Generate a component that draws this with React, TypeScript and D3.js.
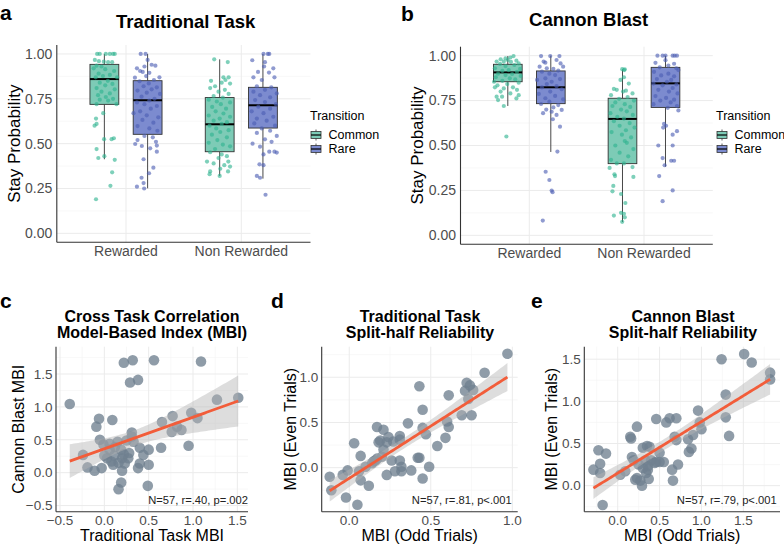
import React from 'react';
import * as d3 from 'd3';

const FONT = '"Liberation Sans", Arial, Helvetica, sans-serif';

const groups = ['Rewarded', 'Non Rewarded'];
const transitions = ['Common', 'Rare'];
const fills = ['#7dcbb6', '#7c8bcf'];
const dots = ['#2fb38f', '#4c5db3'];
const boxTicks = [0, 0.25, 0.5, 0.75, 1];

// box stats: [lower whisker, q1, median, q3, upper whisker]
const tradStats = [
  [0.413, 0.719, 0.86, 0.942, 1.0],
  [0.251, 0.552, 0.742, 0.851, 1.0],
  [0.32, 0.455, 0.608, 0.757, 0.97],
  [0.305, 0.587, 0.714, 0.814, 1.0],
];
const cannonStats = [
  [0.72, 0.855, 0.907, 0.952, 0.998],
  [0.464, 0.733, 0.824, 0.915, 1.0],
  [0.074, 0.399, 0.648, 0.763, 0.924],
  [0.382, 0.712, 0.846, 0.935, 1.0],
];

// jittered points: [offset in box widths, stay probability]
const tradCommonRew = [[-0.25,1.0],[-0.16,1.0],[0.05,1.0],[0.19,1.0],[0.30,1.0],[0.36,1.0],[-0.33,0.967],[-0.19,0.96],[-0.02,0.957],[0.13,0.954],[0.27,0.954],[-0.27,0.935],[-0.10,0.93],[-0.37,0.92],[0.03,0.915],[0.34,0.905],[-0.20,0.89],[0.19,0.883],[-0.05,0.877],[-0.30,0.87],[0.44,0.87],[0.12,0.85],[-0.16,0.84],[0.28,0.833],[0.03,0.825],[-0.27,0.81],[0.36,0.803],[-0.10,0.79],[0.19,0.78],[-0.22,0.77],[0.05,0.76],[0.30,0.75],[-0.16,0.745],[0.13,0.74],[-0.27,0.72],[0.42,0.72],[-0.04,0.67],[-0.29,0.64],[-0.27,0.61],[-0.34,0.60],[0.33,0.53],[-0.01,0.525],[0.25,0.525],[-0.27,0.47],[0.0,0.43],[-0.21,0.42],[0.36,0.41],[0.27,0.34],[0.21,0.265],[-0.29,0.19]];
const tradRareRew = [[-0.24,1.0],[-0.07,1.0],[0.0,0.967],[0.14,0.94],[0.27,0.935],[-0.11,0.93],[-0.37,0.92],[-0.26,0.905],[-0.17,0.9],[0.06,0.895],[-0.05,0.877],[-0.44,0.868],[0.41,0.87],[0.22,0.855],[-0.28,0.848],[0.04,0.836],[-0.14,0.82],[0.32,0.814],[0.14,0.803],[-0.35,0.796],[-0.03,0.784],[0.43,0.777],[-0.21,0.762],[0.24,0.75],[0.06,0.74],[-0.37,0.73],[-0.11,0.72],[0.32,0.71],[0.11,0.695],[-0.26,0.68],[-0.49,0.67],[-0.03,0.658],[0.37,0.647],[-0.18,0.632],[0.2,0.617],[-0.35,0.598],[0.06,0.585],[0.34,0.572],[-0.11,0.543],[0.18,0.535],[-0.35,0.52],[0.29,0.51],[-0.43,0.498],[0.32,0.489],[-0.2,0.487],[0.09,0.474],[0.32,0.455],[-0.14,0.413],[0.2,0.366],[0.05,0.335],[-0.21,0.31],[-0.14,0.28],[-0.37,0.26],[-0.12,0.25]];
const tradCommonNon = [[-0.19,0.97],[0.28,0.955],[-0.3,0.85],[0.13,0.87],[0.31,0.87],[0.2,0.855],[0.07,0.84],[0.36,0.835],[-0.16,0.82],[-0.33,0.81],[0.18,0.8],[-0.04,0.79],[0.31,0.777],[-0.21,0.765],[0.11,0.757],[-0.38,0.745],[-0.1,0.735],[0.36,0.73],[0.04,0.72],[-0.26,0.705],[0.22,0.695],[-0.14,0.68],[0.13,0.668],[-0.38,0.657],[0.36,0.65],[0.0,0.64],[-0.21,0.628],[0.25,0.62],[0.07,0.61],[-0.35,0.6],[-0.12,0.585],[0.31,0.575],[0.02,0.565],[-0.27,0.55],[0.25,0.535],[-0.08,0.52],[-0.38,0.505],[0.11,0.495],[0.36,0.485],[-0.16,0.47],[-0.33,0.452],[0.07,0.44],[0.25,0.43],[-0.04,0.42],[-0.44,0.4],[-0.21,0.39],[0.16,0.38],[0.36,0.372],[0.02,0.36],[-0.33,0.345],[0.29,0.345],[-0.35,0.33],[0.0,0.32],[0.3,0.4]];
const tradRareNon = [[0.02,1.0],[0.17,1.0],[0.22,1.0],[-0.37,0.965],[0.07,0.954],[0.36,0.92],[0.04,0.93],[-0.17,0.9],[0.21,0.896],[-0.33,0.87],[0.4,0.87],[-0.04,0.855],[-0.21,0.82],[0.29,0.814],[0.07,0.8],[-0.33,0.79],[0.48,0.78],[-0.1,0.77],[0.25,0.758],[-0.27,0.743],[0.07,0.732],[0.45,0.72],[-0.16,0.706],[0.25,0.695],[-0.39,0.68],[0.02,0.67],[0.36,0.65],[-0.21,0.64],[0.13,0.628],[-0.3,0.613],[0.42,0.6],[-0.04,0.585],[0.25,0.572],[-0.21,0.56],[0.48,0.543],[-0.36,0.5],[0.07,0.524],[0.3,0.51],[-0.1,0.483],[0.4,0.455],[0.22,0.455],[0.48,0.45],[0.02,0.44],[-0.12,0.385],[0.02,0.38],[-0.21,0.32],[-0.1,0.31],[0.09,0.215]];

const cannonCommonRew = [[0.2,0.998],[0.09,0.99],[-0.08,0.985],[-0.25,0.98],[0.0,0.976],[0.3,0.972],[-0.39,0.967],[-0.14,0.967],[0.11,0.965],[0.38,0.957],[-0.27,0.954],[0.23,0.948],[-0.08,0.942],[-0.45,0.93],[0.43,0.926],[0.03,0.92],[-0.19,0.915],[0.32,0.91],[-0.34,0.9],[0.15,0.898],[-0.08,0.892],[0.45,0.887],[-0.42,0.88],[0.07,0.874],[0.26,0.868],[-0.19,0.86],[-0.48,0.855],[0.38,0.85],[-0.02,0.842],[-0.36,0.835],[0.18,0.824],[-0.14,0.818],[0.32,0.81],[-0.45,0.824],[-0.25,0.8],[0.09,0.79],[0.38,0.78],[-0.39,0.772],[0.3,0.762],[-0.2,0.772],[-0.34,0.753],[-0.14,0.72],[-0.05,0.55]];
const cannonRareRew = [[-0.34,0.998],[-0.02,0.998],[0.3,0.998],[-0.25,0.967],[-0.19,0.961],[0.2,0.976],[0.34,0.957],[-0.39,0.939],[-0.14,0.93],[0.09,0.926],[0.26,0.917],[0.43,0.939],[-0.31,0.911],[-0.05,0.9],[0.15,0.892],[-0.19,0.874],[0.32,0.87],[-0.48,0.865],[0.03,0.855],[-0.14,0.842],[0.2,0.83],[-0.31,0.824],[0.38,0.813],[-0.02,0.8],[-0.42,0.787],[0.15,0.776],[-0.19,0.763],[0.43,0.757],[-0.05,0.744],[-0.34,0.731],[0.26,0.725],[0.09,0.712],[-0.16,0.7],[0.38,0.698],[-0.27,0.68],[0.03,0.688],[0.2,0.67],[0.07,0.646],[0.32,0.605],[0.23,0.466],[-0.18,0.354],[-0.05,0.308],[0.03,0.249],[0.06,0.24],[-0.28,0.082]];
const cannonCommonNon = [[-0.01,0.925],[0.06,0.92],[0.08,0.924],[0.05,0.88],[-0.07,0.865],[0.22,0.845],[-0.3,0.815],[-0.2,0.81],[0.02,0.8],[0.12,0.805],[0.35,0.79],[-0.4,0.78],[0.18,0.77],[-0.12,0.76],[0.4,0.75],[-0.25,0.74],[0.08,0.73],[-0.35,0.72],[0.27,0.715],[-0.05,0.7],[0.15,0.69],[-0.42,0.68],[0.36,0.67],[-0.18,0.66],[0.05,0.65],[-0.3,0.635],[0.25,0.625],[-0.1,0.61],[0.42,0.6],[0.12,0.585],[-0.38,0.575],[-0.02,0.56],[0.3,0.545],[0.08,0.525],[0.15,0.515],[-0.25,0.5],[0.38,0.48],[-0.1,0.46],[0.2,0.44],[-0.4,0.42],[0.05,0.4],[-0.2,0.4],[0.35,0.38],[-0.45,0.375],[-0.28,0.34],[-0.26,0.33],[0.38,0.325],[-0.32,0.275],[-0.35,0.245],[-0.05,0.23],[0.1,0.18],[-0.3,0.11],[-0.05,0.125],[0.05,0.12],[0.08,0.1],[-0.01,0.075]];
const cannonRareNon = [[-0.28,1.0],[-0.1,1.0],[0.0,1.0],[0.25,1.0],[0.32,1.0],[0.4,1.0],[0.0,0.975],[-0.35,0.96],[0.3,0.955],[0.1,0.945],[-0.2,0.935],[0.38,0.93],[0.45,0.92],[-0.4,0.91],[0.1,0.9],[-0.15,0.89],[0.3,0.885],[-0.3,0.87],[0.2,0.865],[0.05,0.855],[-0.42,0.845],[0.38,0.84],[-0.1,0.835],[0.25,0.82],[-0.25,0.81],[0.12,0.8],[0.42,0.79],[-0.35,0.775],[0.02,0.765],[0.3,0.755],[-0.18,0.75],[0.18,0.74],[-0.42,0.73],[0.4,0.72],[0.08,0.71],[0.45,0.695],[-0.05,0.62],[0.02,0.61],[-0.08,0.6],[0.4,0.58],[0.25,0.56],[-0.25,0.5],[0.25,0.5],[-0.1,0.43],[0.2,0.415],[0.3,0.415],[-0.03,0.39],[-0.22,0.33],[0.25,0.25],[-0.1,0.19]];

// scatter data: [x, y]
const crossTask = [[-0.39,1.045],[0.22,1.67],[0.32,1.71],[0.56,1.71],[1.09,1.69],[0.29,1.37],[0.38,1.41],[1.27,1.11],[1.51,1.14],[0.98,0.91],[1.05,0.83],[-0.06,0.82],[-0.09,0.7],[0.09,0.8],[0.65,0.77],[0.77,0.86],[0.76,0.62],[0.82,0.7],[0.87,0.65],[0.31,0.61],[0.95,0.41],[0.64,0.38],[-0.24,0.27],[-0.19,0.08],[-0.11,0.03],[-0.03,0.07],[-0.01,0.43],[0.06,0.44],[0.12,0.39],[0.25,0.49],[0.2,0.22],[0.16,0.15],[0.08,0.17],[0.03,0.22],[0.11,0.26],[0.22,0.28],[0.28,0.3],[0.19,0.35],[0.4,0.38],[0.44,0.27],[0.4,0.14],[0.5,0.35],[0.38,0.07],[0.5,0.12],[0.2,0.03],[0.19,-0.15],[0.16,-0.25],[0.49,-0.2],[0.27,0.22],[0.31,0.55],[0.33,0.47],[0.0,0.26],[0.06,0.35],[0.15,0.47],[-0.05,0.5],[0.23,0.14],[0.1,0.12]];
const tradSplit = [[0.97,1.26],[0.83,1.05],[0.72,0.94],[0.74,0.91],[0.71,0.85],[0.76,0.86],[0.73,0.76],[0.61,0.8],[0.43,0.9],[0.69,0.58],[0.75,0.58],[0.45,0.64],[0.6,0.51],[0.61,0.45],[0.59,0.33],[0.36,0.49],[0.45,0.44],[0.47,0.37],[0.54,0.24],[0.49,0.01],[0.43,0.11],[0.42,0.11],[0.45,-0.12],[0.38,-0.03],[0.32,0.01],[0.26,0.08],[0.31,0.08],[0.32,-0.04],[0.28,-0.04],[0.17,0.45],[0.21,0.42],[0.19,0.3],[0.24,0.34],[0.27,0.29],[0.31,0.35],[0.31,0.31],[0.23,0.28],[0.21,0.2],[0.14,0.05],[0.16,0.08],[0.2,0.12],[0.18,0.28],[0.15,0.07],[0.23,-0.08],[0.1,0.01],[0.07,0.13],[0.03,0.27],[0.06,-0.04],[0.12,-0.2],[0.07,-0.14],[-0.01,-0.03],[-0.04,-0.08],[-0.02,-0.33],[0.05,-0.41],[-0.12,-0.1],[-0.11,-0.25],[0.17,0.1]];
const cannonSplit = [[1.51,1.56],[1.24,1.5],[1.6,1.46],[1.82,1.34],[1.82,1.26],[1.29,1.08],[1.29,0.81],[1.33,0.59],[0.96,0.89],[1.0,0.67],[0.98,0.75],[0.9,0.6],[0.88,0.44],[0.85,0.4],[0.68,0.58],[0.46,0.79],[0.62,0.8],[0.7,0.8],[0.58,0.75],[0.7,0.54],[0.72,0.25],[0.65,0.19],[0.66,0.06],[0.5,0.39],[0.5,0.28],[0.46,0.28],[0.55,0.28],[0.35,0.47],[0.38,0.46],[0.23,0.7],[0.15,0.58],[0.17,0.34],[0.19,0.3],[0.33,0.3],[0.36,0.23],[0.34,0.15],[0.37,0.08],[0.27,0.06],[0.23,0.09],[0.29,0.0],[0.21,0.07],[0.03,0.13],[0.09,0.17],[-0.23,0.42],[-0.14,0.38],[-0.21,0.26],[-0.21,0.15],[-0.29,0.19],[-0.18,-0.23],[0.25,0.25],[0.4,0.3],[0.3,0.45],[0.16,0.56],[0.44,0.27],[0.36,0.19],[0.3,0.21],[0.84,0.55]];

const gridMajor = '#ebebeb';
const gridMinor = '#f4f4f4';
const axisCol = '#333333';
const tickCol = '#4d4d4d';

function minorBreaks(ticks: number[], domain: number[]) {
  const step = ticks[1] - ticks[0];
  const out: number[] = [];
  for (let i = -1; i < ticks.length; i++) {
    const m = ticks[0] + (i + 0.5) * step;
    if (m > domain[0] && m < domain[1]) out.push(m);
  }
  return out;
}

function BoxPanel({ x0, x1, top, bottom, stats, points, title, titleY, label, labelX, labelY, yTitleX, legendX }: any) {
  const y = d3.scaleLinear().domain([-0.05, 1.05]).range([bottom, top]);
  const xOuter = d3.scaleBand().domain(groups).range([x0, x1]).paddingInner(0).paddingOuter(0.1);
  const step = xOuter.bandwidth();
  const xInner = d3.scaleBand().domain(transitions).range([0.125 * step, 0.875 * step]);
  const boxW = 0.25 * step;
  const minor = minorBreaks(boxTicks, [-0.05, 1.05]);
  const cx = (g: number, t: number) => (xOuter(groups[g]) as number) + (xInner(transitions[t]) as number) + xInner.bandwidth() / 2;

  return (
    <g>
      <text x={labelX} y={labelY} fontSize={21} fontWeight="bold">{label}</text>
      <text x={(x0 + x1) / 2 + 2} y={titleY} fontSize={18.5} fontWeight="bold" textAnchor="middle">{title}</text>
      {minor.map(t => <line key={'m' + t} x1={x0} x2={x1} y1={y(t)} y2={y(t)} stroke={gridMinor} strokeWidth={0.6} />)}
      {boxTicks.map(t => <line key={'g' + t} x1={x0} x2={x1} y1={y(t)} y2={y(t)} stroke={gridMajor} strokeWidth={1} />)}
      {groups.map(g => {
        const c = (xOuter(g) as number) + step / 2;
        return <line key={g} x1={c} x2={c} y1={top} y2={bottom} stroke={gridMajor} strokeWidth={1} />;
      })}
      {stats.map((s: number[], i: number) => {
        const g = Math.floor(i / 2), t = i % 2;
        const c = cx(g, t);
        return (
          <g key={'b' + i}>
            <line x1={c} x2={c} y1={y(s[4])} y2={y(s[3])} stroke={axisCol} strokeWidth={0.9} />
            <line x1={c} x2={c} y1={y(s[1])} y2={y(s[0])} stroke={axisCol} strokeWidth={0.9} />
            <rect x={c - boxW / 2} y={y(s[3])} width={boxW} height={y(s[1]) - y(s[3])} fill={fills[t]} stroke={axisCol} strokeWidth={0.9} />
            <line x1={c - boxW / 2} x2={c + boxW / 2} y1={y(s[2])} y2={y(s[2])} stroke="#000" strokeWidth={2} />
          </g>
        );
      })}
      {points.map((pts: number[][], i: number) => {
        const g = Math.floor(i / 2), t = i % 2;
        const c = cx(g, t);
        return pts.map((p, j) => (
          <circle key={'p' + i + '-' + j} cx={c + p[0] * boxW} cy={y(p[1])} r={2.1} fill={dots[t]} fillOpacity={0.62} />
        ));
      })}
      <line x1={x0} x2={x0} y1={top} y2={bottom} stroke={axisCol} strokeWidth={1.1} />
      <line x1={x0} x2={x1} y1={bottom} y2={bottom} stroke={axisCol} strokeWidth={1.1} />
      {boxTicks.map(t => (
        <text key={'t' + t} x={x0 - 4.5} y={y(t)} dy="0.35em" fontSize={14} fill={tickCol} textAnchor="end">{d3.format('.2f')(t)}</text>
      ))}
      {groups.map(g => (
        <text key={'x' + g} x={(xOuter(g) as number) + step / 2} y={bottom + 14} fontSize={14} fill={tickCol} textAnchor="middle">{g}</text>
      ))}
      <text transform={`translate(${yTitleX},${(top + bottom) / 2}) rotate(-90)`} dy="0.35em" fontSize={17} textAnchor="middle">Stay Probability</text>
      <g transform={`translate(${legendX},0)`}>
        <text x={1} y={120} fontSize={12.5}>Transition</text>
        {transitions.map((t, i) => {
          const ky = 135 + i * 14;
          return (
            <g key={t}>
              <line x1={7} x2={7} y1={ky - 5.5} y2={ky + 5.5} stroke={axisCol} strokeWidth={0.8} />
              <rect x={2} y={ky - 3.5} width={10} height={7} fill={fills[i]} stroke={axisCol} strokeWidth={0.8} />
              <line x1={2} x2={12} y1={ky} y2={ky} stroke="#000" strokeWidth={1.2} />
              <text x={19.5} y={ky} dy="0.35em" fontSize={12.5}>{t}</text>
            </g>
          );
        })}
      </g>
    </g>
  );
}

function fitLine(data: number[][]) {
  const n = data.length;
  const mx = d3.mean(data, d => d[0]) as number;
  const my = d3.mean(data, d => d[1]) as number;
  let sxx = 0, sxy = 0;
  data.forEach(d => { sxx += (d[0] - mx) ** 2; sxy += (d[0] - mx) * (d[1] - my); });
  const b = sxy / sxx;
  const a = my - b * mx;
  let sse = 0;
  data.forEach(d => { sse += (d[1] - a - b * d[0]) ** 2; });
  const s = Math.sqrt(sse / (n - 2));
  const tq = 2.004;
  const [lo, hi] = d3.extent(data, d => d[0]) as number[];
  const xs = d3.range(0, 81).map(i => lo + (hi - lo) * i / 80);
  return xs.map(x => {
    const fit = a + b * x;
    const se = s * Math.sqrt(1 / n + (x - mx) ** 2 / sxx);
    return { x, fit, lo: fit - tq * se, hi: fit + tq * se };
  });
}

function ScatterPanel({ data, xDomain, yDomain, left, right, top, bottom, xTicks, yTicks, titles, titleX, xLabel, yLabel, yTitleX, note, noteX, label, labelX }: any) {
  const x = d3.scaleLinear().domain(xDomain).range([left, right]);
  const y = d3.scaleLinear().domain(yDomain).range([bottom, top]);
  const fit = fitLine(data);
  const area = d3.area<any>().x(d => x(d.x)).y0(d => y(d.lo)).y1(d => y(d.hi));
  const line = d3.line<any>().x(d => x(d.x)).y(d => y(d.fit));
  const fmt = d3.format('.1f');
  return (
    <g>
      <text x={labelX} y={308} fontSize={21} fontWeight="bold">{label}</text>
      {titles.map((t: string, i: number) => (
        <text key={t} x={titleX} y={321.5 + i * 16.5} fontSize={16} fontWeight="bold" textAnchor="middle">{t}</text>
      ))}
      {minorBreaks(xTicks, xDomain).map(t => <line key={'mx' + t} x1={x(t)} x2={x(t)} y1={top} y2={bottom} stroke={gridMinor} strokeWidth={0.6} />)}
      {minorBreaks(yTicks, yDomain).map(t => <line key={'my' + t} x1={left} x2={right} y1={y(t)} y2={y(t)} stroke={gridMinor} strokeWidth={0.6} />)}
      {xTicks.map((t: number) => <line key={'gx' + t} x1={x(t)} x2={x(t)} y1={top} y2={bottom} stroke={gridMajor} strokeWidth={1} />)}
      {yTicks.map((t: number) => <line key={'gy' + t} x1={left} x2={right} y1={y(t)} y2={y(t)} stroke={gridMajor} strokeWidth={1} />)}
      {data.map((d: number[], i: number) => (
        <circle key={i} cx={x(d[0])} cy={y(d[1])} r={5.3} fill="#708090" fillOpacity={0.78} />
      ))}
      <path d={area(fit) as string} fill="#b3b3b3" fillOpacity={0.45} />
      <path d={line(fit) as string} fill="none" stroke="#f25d3a" strokeWidth={2.8} />
      <line x1={left} x2={left} y1={top} y2={bottom} stroke={axisCol} strokeWidth={1.1} />
      <line x1={left} x2={right} y1={bottom} y2={bottom} stroke={axisCol} strokeWidth={1.1} />
      {xTicks.map((t: number) => (
        <text key={'tx' + t} x={x(t)} y={bottom + 13} fontSize={13.5} fill={tickCol} textAnchor="middle">{fmt(t)}</text>
      ))}
      {yTicks.map((t: number) => (
        <text key={'ty' + t} x={left - 3.5} y={y(t)} dy="0.35em" fontSize={13.5} fill={tickCol} textAnchor="end">{fmt(t)}</text>
      ))}
      <text x={(left + right) / 2} y={541} fontSize={16} textAnchor="middle">{xLabel}</text>
      <text transform={`translate(${yTitleX},${(top + bottom) / 2}) rotate(-90)`} dy="0.35em" fontSize={16} textAnchor="middle">{yLabel}</text>
      <text x={noteX} y={503.5} fontSize={11.2} fill="#222" textAnchor="end">{note}</text>
    </g>
  );
}

export default function App() {
  return (
    <svg width={784} height={546} style={{ position: 'absolute', left: 0, top: 0, background: '#fff' }} fontFamily={FONT}>
      <rect width={784} height={546} fill="#fff" />
      <BoxPanel x0={56.8} x1={310.5} top={45} bottom={242.3} stats={tradStats}
        points={[tradCommonRew, tradRareRew, tradCommonNon, tradRareNon]}
        title="Traditional Task" titleY={28} label="a" labelX={0} labelY={20} yTitleX={14} legendX={309} />
      <BoxPanel x0={460.5} x1={712.8} top={46.7} bottom={244.3} stats={cannonStats}
        points={[cannonCommonRew, cannonRareRew, cannonCommonNon, cannonRareNon]}
        title="Cannon Blast" titleY={26} label="b" labelX={401} labelY={21} yTitleX={417.5} legendX={715} />
      <ScatterPanel data={crossTask} xDomain={[-0.545, 1.62]} yDomain={[-0.593, 1.915]}
        left={56} right={248} top={346.7} bottom={511.7}
        xTicks={[-0.5, 0, 0.5, 1, 1.5]} yTicks={[-0.5, 0, 0.5, 1, 1.5]}
        titles={['Cross Task Correlation', 'Model-Based Index (MBI)']} titleX={152}
        xLabel="Traditional Task MBI" yLabel="Cannon Blast MBI" yTitleX={18}
        note="N=57, r=.40, p=.002" noteX={248} label="c" labelX={0} />
      <ScatterPanel data={tradSplit} xDomain={[-0.169, 1.033]} yDomain={[-0.487, 1.338]}
        left={321.7} right={517.7} top={346.7} bottom={511.7}
        xTicks={[0, 0.5, 1]} yTicks={[0, 0.5, 1]}
        titles={['Traditional Task', 'Split-half Reliability']} titleX={420}
        xLabel="MBI (Odd Trials)" yLabel="MBI (Even Trials)" yTitleX={290}
        note="N=57, r=.81, p<.001" noteX={511.7} label="d" labelX={271} />
      <ScatterPanel data={cannonSplit} xDomain={[-0.399, 1.938]} yDomain={[-0.309, 1.648]}
        left={584.3} right={780} top={346.7} bottom={511.7}
        xTicks={[0, 0.5, 1, 1.5]} yTicks={[0, 0.5, 1, 1.5]}
        titles={['Cannon Blast', 'Split-half Reliability']} titleX={683}
        xLabel="MBI (Odd Trials)" yLabel="MBI (Even Trials)" yTitleX={551.7}
        note="N=57, r=.79, p<.001" noteX={776.7} label="e" labelX={531} />
    </svg>
  );
}
